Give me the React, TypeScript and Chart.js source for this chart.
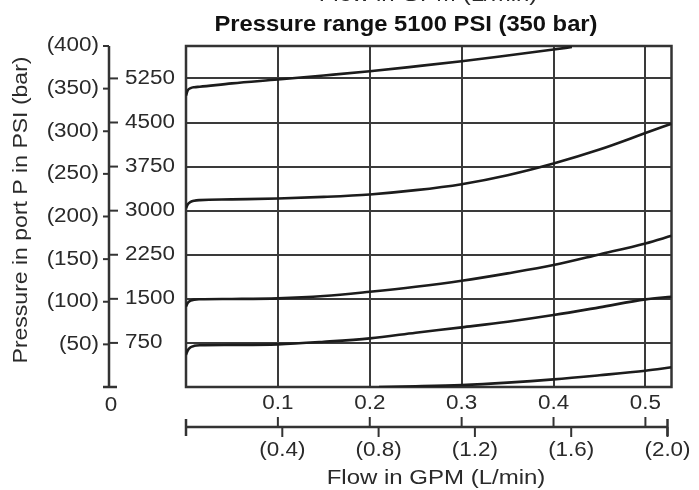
import React, { useEffect, useRef } from "react";
import { Chart, registerables } from "chart.js";

Chart.register(...registerables);

// ---- data ----
const PSI_PER_BAR = 14.5038;
const LPM_PER_GPM = 3.785;
const gpmTicks = [0.1, 0.2, 0.3, 0.4, 0.5];
const lpmTicks = [0.4, 0.8, 1.2, 1.6, 2.0];
const psiTicks = [750, 1500, 2250, 3000, 3750, 4500, 5250];
const barTicks = [50, 100, 150, 200, 250, 300, 350, 400];
const xMaxLpm = 2.0;
const yMaxBar = 400;

// curves: [flow GPM, pressure PSI]
const curve5100 = [[0, 4960], [0.002, 5050], [0.005, 5085], [0.009, 5100], [0.015, 5108], [0.05, 5165], [0.1, 5231], [0.15, 5300], [0.2, 5372], [0.25, 5455], [0.3, 5542], [0.35, 5640], [0.4, 5741], [0.42, 5785]];
const curve3150 = [[0, 3040], [0.002, 3110], [0.005, 3150], [0.009, 3170], [0.015, 3180], [0.05, 3192], [0.1, 3208], [0.15, 3235], [0.2, 3276], [0.25, 3349], [0.3, 3451], [0.35, 3604], [0.4, 3803], [0.45, 4040], [0.5, 4320], [0.5284, 4480]];
const curve1500 = [[0, 1370], [0.002, 1435], [0.005, 1470], [0.009, 1487], [0.015, 1493], [0.05, 1498], [0.1, 1508], [0.15, 1547], [0.2, 1620], [0.25, 1705], [0.3, 1807], [0.35, 1933], [0.4, 2074], [0.45, 2256], [0.5, 2443], [0.5284, 2572]];
const curve700 = [[0, 550], [0.002, 625], [0.005, 675], [0.009, 700], [0.015, 710], [0.05, 716], [0.1, 726], [0.15, 770], [0.2, 828], [0.25, 923], [0.3, 1015], [0.35, 1110], [0.4, 1224], [0.45, 1355], [0.5, 1491], [0.5284, 1535]];
const curve0 = [[0.21, 0], [0.25, 12], [0.3, 34], [0.35, 75], [0.4, 130], [0.45, 200], [0.5, 277], [0.5284, 335]];

const titleText = "Pressure range 5100 PSI (350 bar)";
const xTitle = "Flow in GPM (L/min)";
const yTitle = "Pressure in port P in PSI (bar)";

const FONT = "'Liberation Sans', Arial, Helvetica, sans-serif";
const TEXT = "#2a2a2a";

function txt(ctx: CanvasRenderingContext2D, s: string, x: number, y: number, size: number, align: CanvasTextAlign, sx: number, bold = false, rot = 0) {
  ctx.save();
  ctx.translate(x, y);
  if (rot) ctx.rotate(rot);
  ctx.scale(sx, 1);
  ctx.font = `${bold ? "bold " : ""}${size}px ${FONT}`;
  ctx.textAlign = align;
  ctx.textBaseline = "middle";
  ctx.fillStyle = bold ? "#111" : TEXT;
  ctx.fillText(s, 0, 0);
  ctx.restore();
}

const decor = {
  id: "decor",
  beforeDatasetsDraw(chart: any) {
    const { ctx, chartArea: a, scales } = chart;
    const xs = scales.x, ys = scales.y;
    ctx.save();
    ctx.strokeStyle = "#3a3a3a";
    ctx.lineWidth = 2;
    gpmTicks.forEach((g) => {
      const px = Math.round(xs.getPixelForValue(g));
      ctx.beginPath(); ctx.moveTo(px, a.top); ctx.lineTo(px, a.bottom); ctx.stroke();
    });
    psiTicks.forEach((p) => {
      const py = Math.round(ys.getPixelForValue(p));
      ctx.beginPath(); ctx.moveTo(a.left, py); ctx.lineTo(a.right, py); ctx.stroke();
    });
    ctx.lineWidth = 2.5;
    ctx.strokeStyle = "#333";
    ctx.strokeRect(a.left, a.top, a.right - a.left, a.bottom - a.top);
    ctx.restore();
  },
  afterDraw(chart: any) {
    const { ctx, scales } = chart;
    const xs = scales.x, ys = scales.y;
    ctx.save();
    ctx.strokeStyle = "#333";
    ctx.lineCap = "butt";
    // --- left axis ---
    const ax = 109;
    const yTop = ys.getPixelForValue(yMaxBar * PSI_PER_BAR);
    const yBot = ys.getPixelForValue(0);
    ctx.lineWidth = 2.5;
    ctx.beginPath(); ctx.moveTo(ax, yTop); ctx.lineTo(ax, yBot); ctx.stroke();
    ctx.beginPath(); ctx.moveTo(103, yBot); ctx.lineTo(117, yBot); ctx.stroke();
    ctx.lineWidth = 2;
    barTicks.forEach((b) => {
      const py = ys.getPixelForValue(b * PSI_PER_BAR);
      ctx.beginPath(); ctx.moveTo(103, py); ctx.lineTo(ax, py); ctx.stroke();
      txt(ctx, `(${b})`, 99, py, 19.5, "right", 1.15);
    });
    psiTicks.forEach((p) => {
      const py = ys.getPixelForValue(p);
      ctx.beginPath(); ctx.moveTo(ax, py); ctx.lineTo(118, py); ctx.stroke();
      txt(ctx, String(p), 125, py, 19.5, "left", 1.15);
    });
    txt(ctx, "0", 111, 406, 19.5, "center", 1.15);
    // --- bottom axis ---
    const ly = 427;
    const x0 = xs.getPixelForValue(0);
    const x1 = xs.getPixelForValue(xMaxLpm / LPM_PER_GPM) - 4;
    const lpmPx = (l: number) => x0 + (x1 - x0) * (l / xMaxLpm);
    ctx.lineWidth = 2.5;
    ctx.beginPath(); ctx.moveTo(x0, ly); ctx.lineTo(x1, ly); ctx.stroke();
    ctx.beginPath(); ctx.moveTo(x0, ly - 8); ctx.lineTo(x0, ly + 9); ctx.stroke();
    ctx.beginPath(); ctx.moveTo(x1, ly - 8); ctx.lineTo(x1, ly + 9); ctx.stroke();
    ctx.lineWidth = 2;
    gpmTicks.forEach((g) => {
      const px = xs.getPixelForValue(g);
      ctx.beginPath(); ctx.moveTo(px, ly - 10); ctx.lineTo(px, ly); ctx.stroke();
      txt(ctx, g.toFixed(1), px, 404, 19.5, "center", 1.15);
    });
    lpmTicks.forEach((l) => {
      const px = lpmPx(l);
      ctx.beginPath(); ctx.moveTo(px, ly); ctx.lineTo(px, ly + 10); ctx.stroke();
      txt(ctx, `(${l.toFixed(1)})`, px, 451, 19.5, "center", 1.15);
    });
    txt(ctx, xTitle, 436, 478, 20, "center", 1.2);
    // clipped duplicate title at top
    txt(ctx, xTitle, 428, -5, 20, "center", 1.2);
    // main title
    txt(ctx, titleText, 406, 25, 22, "center", 1.08, true);
    // y title
    txt(ctx, yTitle, 22, 210, 19.5, "center", 1.18, false, -Math.PI / 2);
    ctx.restore();
  },
};

export default function App() {
  const ref = useRef<HTMLCanvasElement | null>(null);
  useEffect(() => {
    if (!ref.current) return;
    const mk = (d: number[][]) => ({
      data: d.map(([x, y]) => ({ x, y })),
      showLine: true,
      borderColor: "#1c1c1c",
      borderWidth: 2.6,
      pointRadius: 0,
      cubicInterpolationMode: "monotone" as const,
      fill: false,
    });
    const chart = new Chart(ref.current, {
      type: "scatter",
      data: { datasets: [curve5100, curve3150, curve1500, curve700, curve0].map(mk) },
      options: {
        responsive: false,
        animation: false,
        devicePixelRatio: 1,
        layout: { padding: { left: 186, top: 46, right: 699 - 671.5, bottom: 490 - 387 } },
        plugins: { legend: { display: false }, tooltip: { enabled: false } },
        scales: {
          x: { type: "linear", display: false, min: 0, max: xMaxLpm / LPM_PER_GPM },
          y: { type: "linear", display: false, min: 0, max: yMaxBar * PSI_PER_BAR },
        },
      },
      plugins: [decor],
    });
    return () => chart.destroy();
  }, []);
  return (
    <div style={{ position: "fixed", left: 0, top: 0, width: 699, height: 490, background: "#fff" }}>
      <canvas ref={ref} width={699} height={490} style={{ display: "block" }} />
    </div>
  );
}
